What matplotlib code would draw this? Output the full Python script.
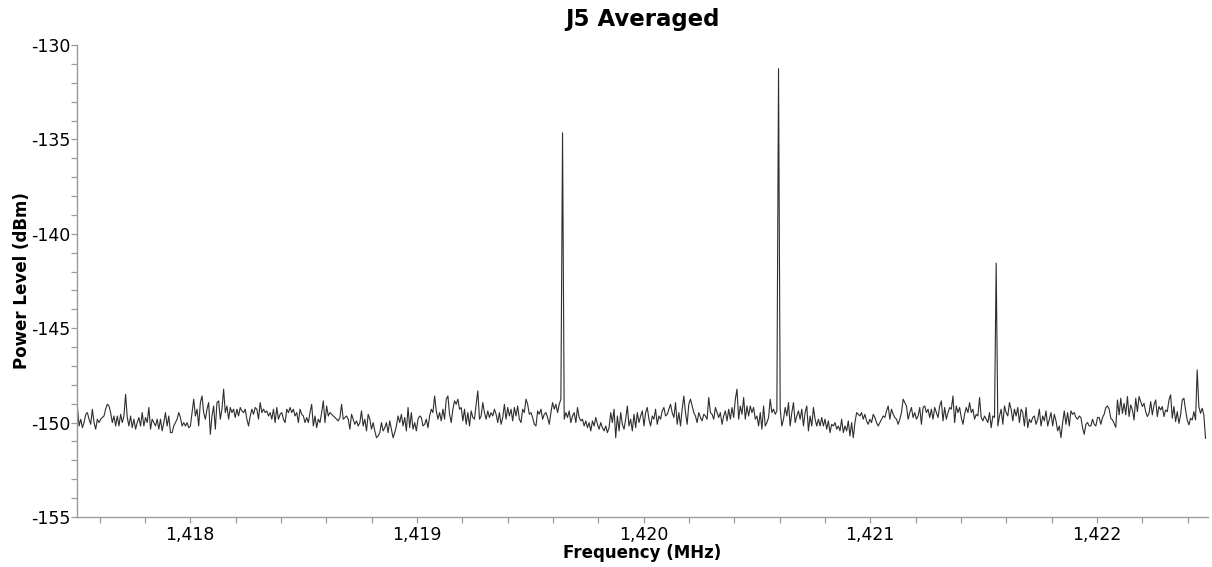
import numpy as np
import matplotlib
matplotlib.use("Agg")
import matplotlib.pyplot as plt
from matplotlib.ticker import MultipleLocator, FuncFormatter

# Sweep limits (MHz) and averaged power readings (dBm), uniformly spaced
freq_start = 1417.502
freq_stop = 1422.479

power_a = [
    -149.20, -150.18, -149.82, -150.27, -150.00, -149.56, -149.47, -149.82, -150.09, -149.29,
    -150.00, -150.35, -149.82, -150.00, -149.82, -149.73, -149.65, -149.29, -149.03, -149.12,
    -149.47, -150.00, -149.65, -150.18, -149.65, -150.18, -149.56, -150.00, -149.65, -148.50,
    -149.73, -150.18, -149.65, -150.27, -149.82, -150.35, -150.00, -149.73, -150.18, -149.47,
    -150.18, -149.73, -150.00, -149.20, -150.35, -149.82, -150.00, -150.18, -149.82, -150.35,
    -149.82, -150.44, -150.00, -149.47, -150.18, -149.65, -150.53, -150.53, -150.18, -150.00,
    -149.82, -149.47, -149.73, -150.18, -150.00, -150.18, -150.00, -150.27, -150.18,
]
power_b = [
    -149.47, -148.76, -149.65, -149.29, -150.18, -148.94, -148.59, -149.47, -149.82, -149.29,
    -148.94, -150.62, -149.65, -149.12, -150.35, -148.94, -148.85, -149.82, -149.29, -148.23,
    -149.47, -149.12, -149.82, -149.20, -149.47, -149.29, -149.73, -149.29, -149.65, -149.20,
    -149.38, -149.47, -149.29, -149.82, -150.18, -149.65, -149.29, -149.56, -149.20, -149.29,
    -149.82, -148.94, -149.47, -149.29, -149.47, -149.38, -149.65, -149.47, -149.82, -149.29,
    -150.00, -149.20, -149.82, -149.56, -149.47, -149.82, -150.00, -149.29, -149.47, -149.20,
    -149.47, -149.29, -149.65, -149.47, -150.00, -149.29, -149.56, -149.65, -150.00, -149.73,
]
power_c = [
    -150.00, -149.47, -149.03, -150.18, -149.65, -150.27, -149.82, -150.00, -149.47, -148.85,
    -150.00, -149.12, -149.65, -149.47, -149.56, -149.65, -149.73, -149.82, -149.91, -149.73,
    -149.03, -149.82, -149.73, -149.65, -149.82, -150.35, -149.56, -149.82, -150.09, -149.91,
    -150.18, -150.00, -149.38, -150.18, -149.82, -150.44, -149.56, -149.82, -150.35, -150.00,
    -150.44, -150.80, -150.71, -150.53, -150.00, -150.44, -150.27, -150.00, -150.53, -149.91,
    -150.35, -150.80, -150.53, -150.18, -149.65, -150.00, -149.56, -150.18, -149.73, -150.44,
    -149.20, -150.27, -149.47, -150.35, -150.00, -150.44, -149.82, -149.65, -149.73,
]
power_d = [
    -150.18, -150.09, -149.82, -150.27, -149.65, -149.29, -149.47, -148.59, -149.38, -149.82,
    -149.47, -149.91, -149.29, -149.82, -148.76, -148.59, -149.56, -150.00, -149.29, -148.85,
    -149.03, -148.76, -149.29, -149.20, -149.91, -149.29, -150.09, -149.47, -150.18, -149.38,
    -149.73, -149.82, -149.03, -148.32, -149.82, -149.65, -148.94, -149.47, -149.82, -149.38,
    -149.73, -149.47, -149.65, -149.29, -149.56, -150.00, -149.47, -150.09, -149.73, -149.03,
    -149.82, -149.20, -149.65, -149.29, -149.91, -149.20, -149.65, -149.12, -149.82, -150.00,
    -149.29, -149.47, -148.76, -149.03, -149.56, -149.47, -149.73, -150.09, -150.18,
]
power_e = [
    -149.38, -149.56, -149.29, -149.82, -149.56, -149.47, -149.73, -150.09, -149.47, -148.94,
    -149.29, -149.03, -149.47, -149.03, -148.76, -134.65, -149.82, -149.47, -149.73, -149.38,
    -150.00, -149.65, -149.47, -150.00, -149.20, -149.73, -149.91, -149.82, -150.18, -149.91,
    -150.27, -150.00, -150.44, -149.91, -150.18, -149.73, -150.09, -150.35, -150.00, -150.27,
    -150.44, -150.18, -150.53, -150.27, -149.47, -150.00, -149.29, -150.80, -149.65, -150.44,
    -149.47, -150.09, -150.35, -149.82, -149.12, -150.18, -149.82, -150.44, -149.56, -150.27,
    -149.47, -150.00, -149.65, -149.38, -150.18, -149.47, -149.20, -149.82, -150.18,
]
power_f = [
    -149.65, -149.82, -149.29, -150.09, -149.65, -149.82, -149.38, -149.20, -149.65, -149.56,
    -149.29, -149.03, -149.47, -149.73, -148.94, -150.09, -149.47, -150.18, -149.29, -148.59,
    -149.47, -150.09, -149.03, -148.76, -149.12, -149.47, -149.65, -150.00, -149.47, -149.73,
    -149.91, -149.56, -149.65, -149.82, -148.67, -149.47, -149.56, -149.82, -149.20, -149.47,
    -149.73, -149.47, -150.09, -149.65, -149.38, -149.91, -149.29, -149.82, -149.20, -149.73,
    -148.76, -148.23, -149.82, -149.12, -149.56, -148.67, -149.82, -149.12, -149.65, -149.12,
    -149.47, -149.20, -149.82, -149.65, -150.18, -149.47, -150.35, -149.12, -150.18,
]
power_g = [
    -150.00, -149.73, -148.76, -149.47, -149.29, -149.56, -149.38, -131.25, -149.29, -150.18,
    -149.82, -149.20, -149.65, -148.94, -150.18, -149.47, -148.94, -150.00, -149.65, -149.38,
    -149.82, -149.29, -150.18, -149.47, -149.12, -150.44, -149.65, -150.18, -149.20, -149.82,
    -150.18, -149.82, -150.18, -149.73, -150.18, -149.82, -150.35, -149.91, -150.53, -150.09,
    -150.18, -150.00, -150.35, -150.18, -150.44, -149.82, -150.53, -150.18, -150.44, -149.91,
    -150.71, -150.00, -150.80, -150.00, -149.47, -149.56, -149.65, -149.47, -149.82, -149.56,
    -149.91, -150.09, -149.82, -150.00, -149.56, -149.73, -150.00, -150.18, -150.00,
]
power_h = [
    -149.82, -149.65, -149.73, -149.38, -149.12, -149.82, -149.29, -149.56, -149.73, -149.82,
    -150.09, -149.82, -149.47, -148.76, -148.94, -149.12, -149.82, -149.47, -149.20, -149.73,
    -149.47, -149.82, -149.65, -149.20, -150.09, -149.20, -149.12, -149.47, -149.29, -149.73,
    -149.29, -149.82, -149.20, -149.47, -149.73, -149.12, -148.85, -149.91, -149.20, -149.82,
    -149.47, -149.20, -149.29, -148.59, -150.00, -149.12, -149.47, -149.20, -149.73, -150.09,
    -149.56, -149.20, -149.47, -148.94, -149.47, -149.29, -149.82, -149.56, -149.65, -148.67,
    -149.73, -149.91, -149.65, -149.82, -150.00, -149.47, -150.27, -149.65, -149.73,
]
power_i = [
    -141.55, -150.18, -149.65, -149.29, -150.09, -149.12, -149.47, -149.65, -148.94, -149.29,
    -149.91, -149.29, -149.65, -149.20, -150.00, -149.29, -149.47, -150.18, -149.20, -150.27,
    -149.82, -150.00, -149.73, -149.65, -150.09, -149.82, -149.29, -150.18, -149.65, -149.91,
    -149.38, -150.18, -149.82, -149.47, -150.18, -149.56, -149.91, -150.44, -150.18, -150.80,
    -150.00, -149.38, -150.09, -149.47, -150.18, -149.38, -149.56, -149.47, -149.73, -149.82,
    -149.65, -149.73, -150.27, -150.62, -150.09, -150.00, -150.18, -150.18, -149.82, -150.09,
    -150.18, -149.73, -149.73, -150.09, -149.73, -149.56, -149.20, -149.12, -149.29,
]
power_j = [
    -149.77, -149.86, -150.04, -150.25, -148.80, -149.59, -148.71, -149.51, -148.98, -149.59,
    -148.62, -149.68, -149.06, -149.33, -149.86, -148.71, -149.42, -148.62, -148.89, -149.15,
    -148.98, -149.42, -149.68, -149.51, -148.89, -149.59, -149.06, -148.80, -149.68, -149.15,
    -149.33, -149.15, -149.68, -149.33, -149.42, -148.80, -148.53, -149.77, -149.15, -149.95,
    -149.42, -150.04, -149.59, -148.80, -148.71, -149.33, -149.86, -150.12, -149.77, -149.86,
    -149.42, -149.86, -147.21, -149.15, -149.51, -149.24, -149.59, -150.83,
]

power_dbm = np.array(power_a + power_b + power_c + power_d + power_e
                     + power_f + power_g + power_h + power_i + power_j)
freq_mhz = np.linspace(freq_start, freq_stop, len(power_dbm))

plt.rcParams["font.family"] = ["DejaVu Sans"]
plt.rcParams["axes.unicode_minus"] = False

fig = plt.figure(figsize=(12.12, 5.67), dpi=100)
ax = fig.add_axes([0.0635, 0.0882, 0.9332, 0.8324])

ax.plot(freq_mhz, power_dbm, color="#2e2e2e", lw=0.8)

ax.set_xlim(1417.5, 1422.49)
ax.set_ylim(-155, -130)

ax.xaxis.set_major_locator(MultipleLocator(1))
ax.xaxis.set_minor_locator(MultipleLocator(0.2))
ax.yaxis.set_major_locator(MultipleLocator(5))
ax.yaxis.set_minor_locator(MultipleLocator(1))
ax.xaxis.set_major_formatter(FuncFormatter(lambda v, p: f"{v:,.0f}"))
ax.yaxis.set_major_formatter(FuncFormatter(lambda v, p: f"{v:.0f}"))

for side in ("top", "right"):
    ax.spines[side].set_visible(False)
for side in ("left", "bottom"):
    ax.spines[side].set_color("#9a9a9a")
    ax.spines[side].set_linewidth(1.0)

ax.tick_params(axis="both", which="both", direction="out", color="#9a9a9a",
               length=4, width=0.9, labelsize=12.5, labelcolor="black")
ax.tick_params(axis="y", which="both", pad=1)
ax.tick_params(axis="x", which="both", pad=2.5)

ax.set_title("J5 Averaged", fontsize=16.5, fontweight="bold", pad=14)
ax.set_xlabel("Frequency (MHz)", fontsize=12, fontweight="bold", labelpad=0)
ax.set_ylabel("Power Level (dBm)", fontsize=12, fontweight="bold", labelpad=0)

fig.savefig("out.png", dpi=100)
